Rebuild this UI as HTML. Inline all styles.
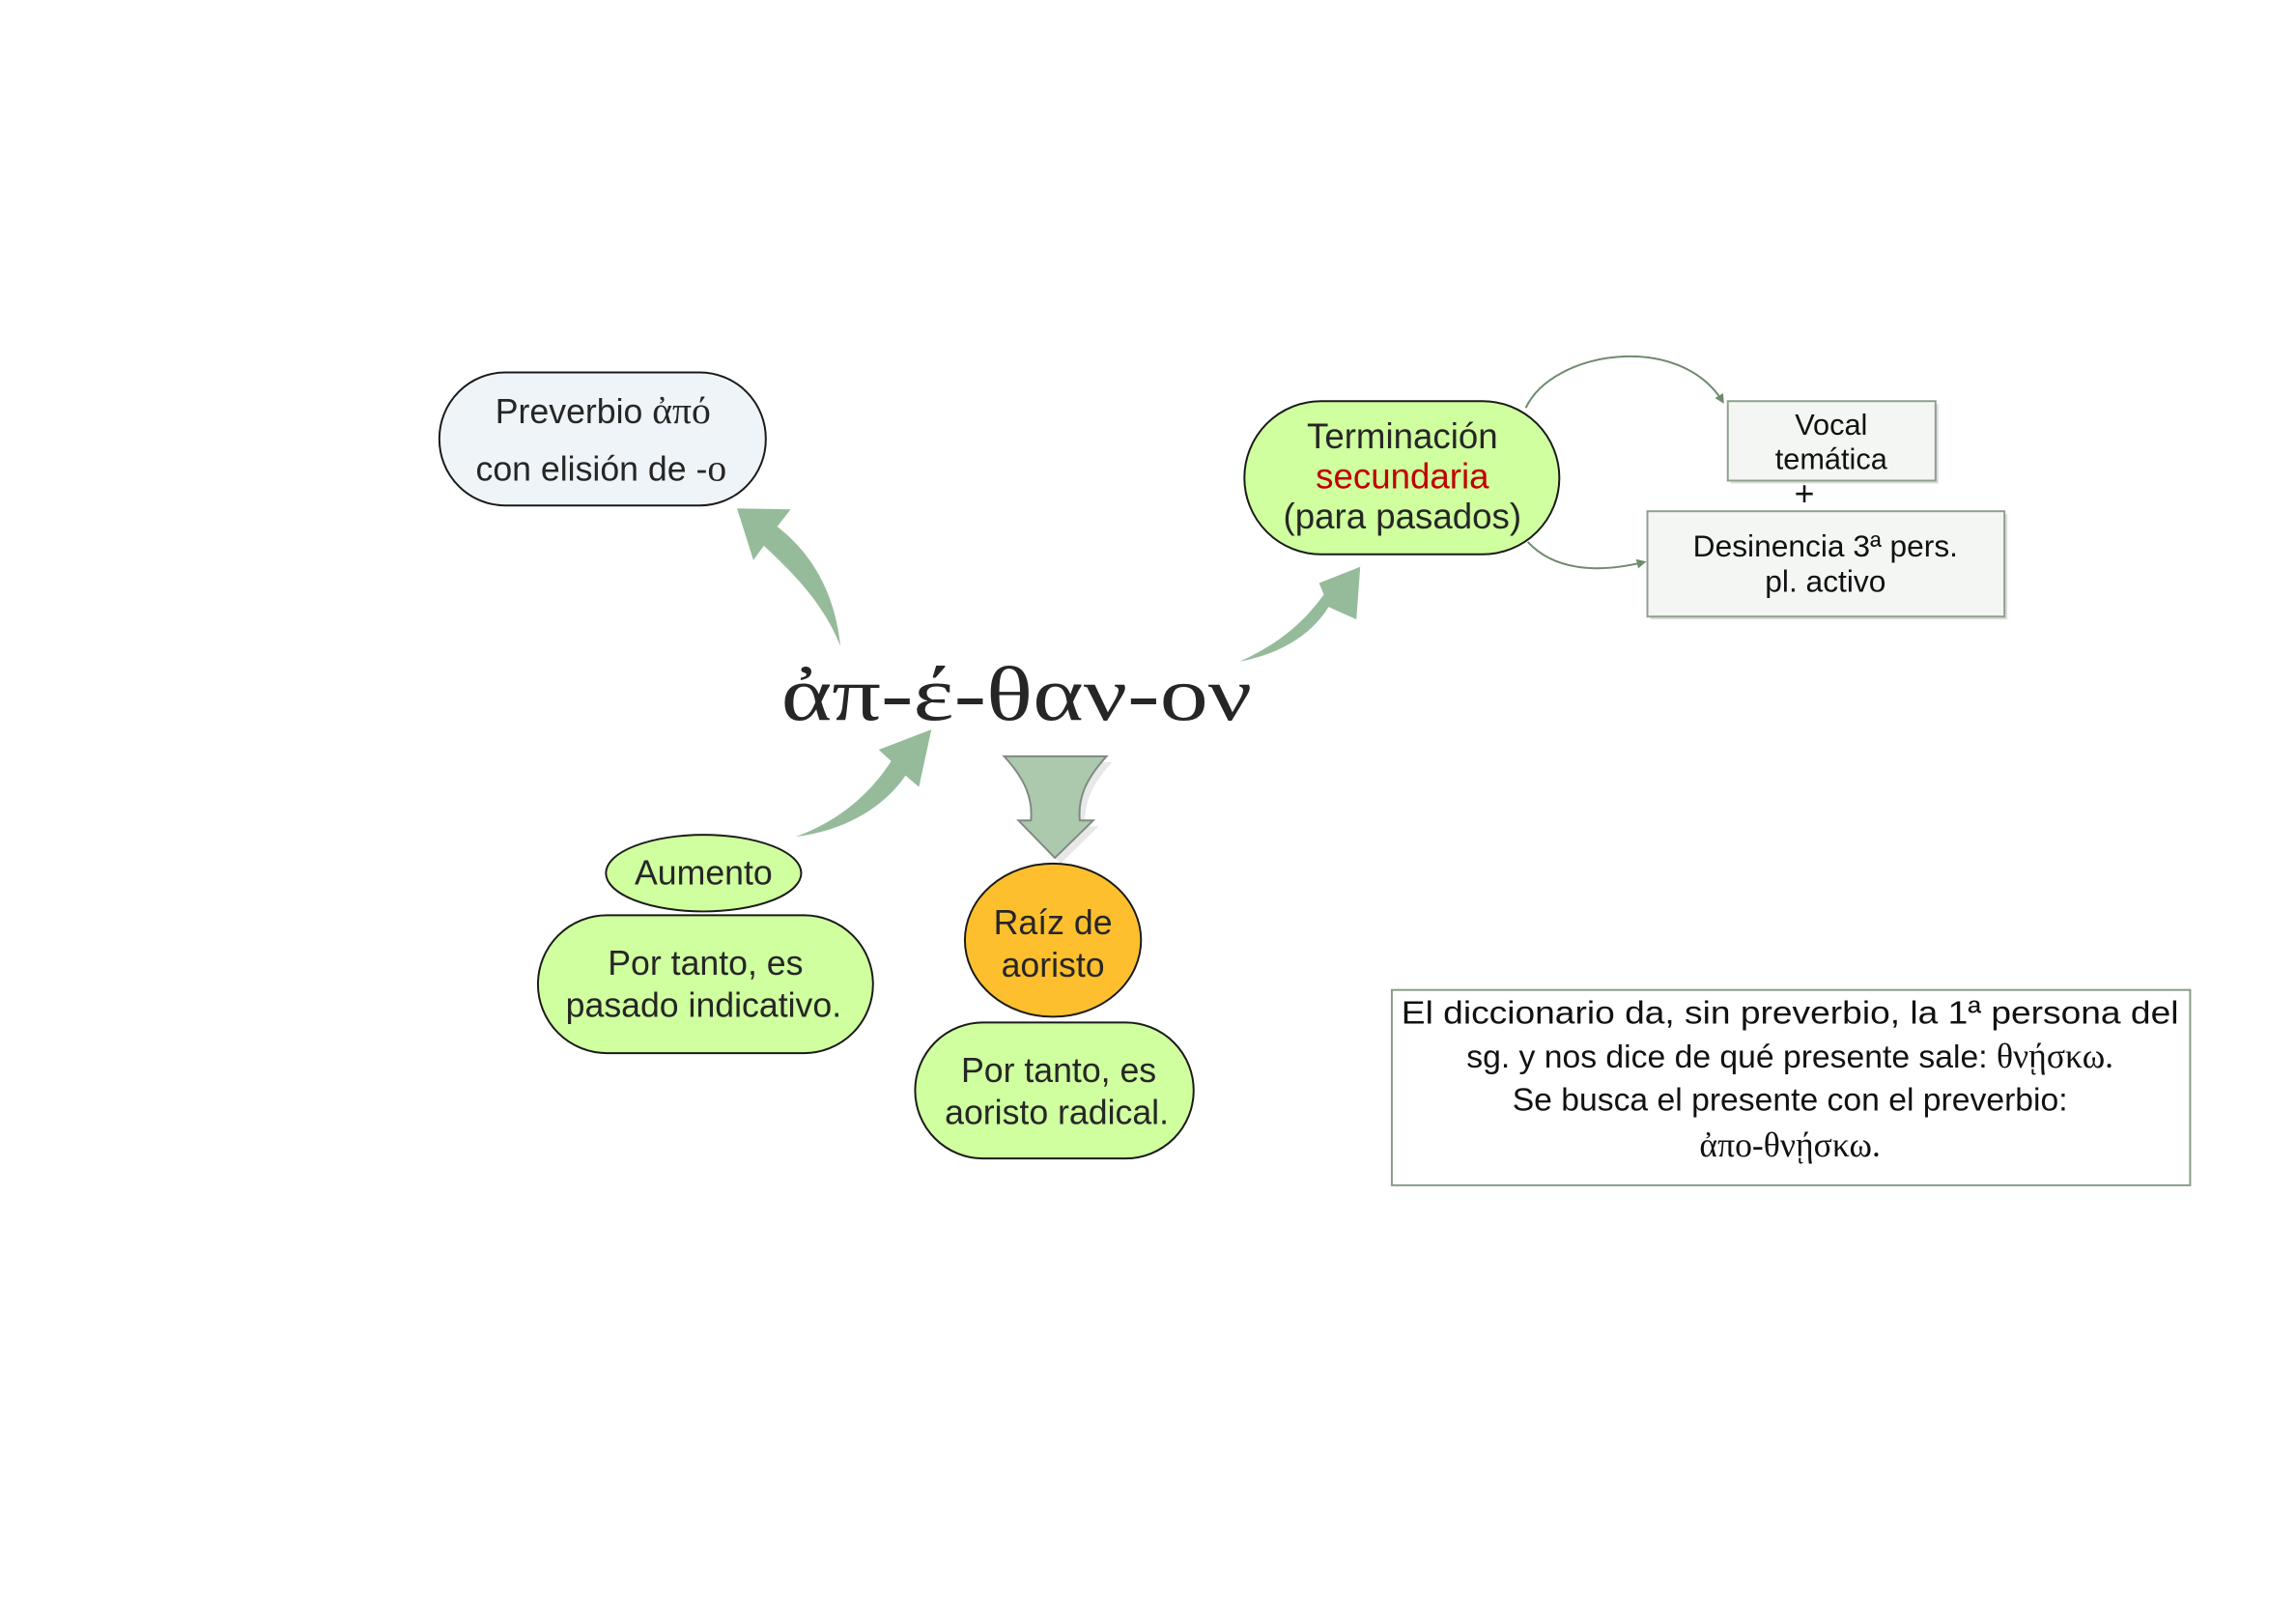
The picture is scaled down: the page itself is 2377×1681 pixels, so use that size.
<!DOCTYPE html>
<html><head><meta charset="utf-8"><style>
html,body{margin:0;padding:0;background:#fff;}
svg{display:block;}
text{font-family:"Liberation Sans",sans-serif;fill:#262626;}
.g{font-family:"Liberation Serif","DejaVu Serif",serif;}
</style></head><body>
<svg width="2377" height="1681" viewBox="0 0 2377 1681" xmlns="http://www.w3.org/2000/svg">
<defs>
<marker id="ah" markerWidth="10" markerHeight="10" refX="8" refY="5" orient="auto" markerUnits="userSpaceOnUse" viewBox="0 0 10 10">
<path d="M0,0 L10,5 L0,10 z" fill="#6f8a6f"/></marker>
</defs>
<g transform="scale(0.991)">
<rect x="459" y="389" width="341" height="139" rx="69" fill="#eef4f8" stroke="#1a1a1a" stroke-width="2"/>
<text x="630" y="442" font-size="36" text-anchor="middle">Preverbio <tspan class="g" font-size="40">ἀπό</tspan></text>
<text x="628" y="502" font-size="36" text-anchor="middle">con elisión de -<tspan class="g" font-size="40">ο</tspan></text>

<path d="M878,675 C872,620 850,580 812,550 L826,532 L770,531 L787,585 L798,570 C830,600 860,630 878,675 Z" fill="#96bb9a"/>

<text class="g" x="1062" y="752" font-size="80" text-anchor="middle" textLength="492" lengthAdjust="spacingAndGlyphs" fill="#2a2a2a">ἀπ-έ-θαν-ον</text>

<path d="M831,874 C880,868 922,845 946,810 L960,822 L973,762 L918,783 L931,795 C905,835 870,860 831,874 Z" fill="#96bb9a"/>

<g transform="translate(13,6)">
<path d="M1282,685 C1320,678 1355,660 1375,628 L1404,641 L1408,586 L1365,603 L1370,615 C1345,650 1315,670 1282,685 Z" fill="#96bb9a"/>
<rect x="1287" y="413" width="329" height="160" rx="80" fill="#cfff9e" stroke="#1a1a1a" stroke-width="2"/>
<text x="1452" y="462" font-size="37" text-anchor="middle">Terminación</text>
<text x="1452" y="504" font-size="37" text-anchor="middle" style="fill:#c00000">secundaria</text>
<text x="1452" y="546" font-size="37" text-anchor="middle">(para pasados)</text>
</g>

<g transform="translate(11,8)">
<path d="M1041,785 L1148,785 C1125,810 1118,830 1120,852 L1134,852 L1094,891 L1056,852 L1069,852 C1071,830 1064,810 1041,785 Z" fill="#e8e8e8" transform="translate(3,3)"/>
<path d="M1038,782 L1145,782 C1122,807 1115,827 1117,849 L1131,849 L1091,888 L1053,849 L1066,849 C1068,827 1061,807 1038,782 Z" fill="#acc9ae" stroke="#808a80" stroke-width="2"/>
</g>

<ellipse cx="735" cy="912" rx="102" ry="40" fill="#cfff9e" stroke="#1a1a1a" stroke-width="2"/>
<text x="735" y="924" font-size="36" text-anchor="middle">Aumento</text>
<rect x="562" y="956" width="350" height="144" rx="72" fill="#cfff9e" stroke="#1a1a1a" stroke-width="2"/>
<text x="737" y="1018" font-size="36" text-anchor="middle">Por tanto, es</text>
<text x="735" y="1062" font-size="36" text-anchor="middle">pasado indicativo.</text>

<ellipse cx="1100" cy="982" rx="92" ry="80" fill="#fdbf2d" stroke="#1a1a1a" stroke-width="2"/>
<text x="1100" y="976" font-size="36" text-anchor="middle">Raíz de</text>
<text x="1100" y="1020" font-size="36" text-anchor="middle">aoristo</text>
<rect x="956" y="1068" width="291" height="142" rx="71" fill="#cfff9e" stroke="#1a1a1a" stroke-width="2"/>
<text x="1106" y="1130" font-size="36" text-anchor="middle">Por tanto, es</text>
<text x="1104" y="1174" font-size="36" text-anchor="middle">aoristo radical.</text>

<path d="M1594,426 C1622,366 1755,346 1800,420" fill="none" stroke="#6f8a6f" stroke-width="2" marker-end="url(#ah)"/>
<path d="M1596,566 C1622,594 1665,600 1718,587" fill="none" stroke="#6f8a6f" stroke-width="2" marker-end="url(#ah)"/>

<rect x="1808" y="422" width="217" height="83" fill="#dcdcdc"/>
<rect x="1805" y="419" width="217" height="83" fill="#f3f6f3" stroke="#8fa08f" stroke-width="2"/>
<text x="1913" y="454" font-size="31" text-anchor="middle" style="fill:#111">Vocal</text>
<text x="1913" y="490" font-size="31" text-anchor="middle" style="fill:#111">temática</text>
<text x="1885" y="528" font-size="36" text-anchor="middle" style="fill:#111">+</text>

<rect x="1724" y="537" width="373" height="110" fill="#dcdcdc"/>
<rect x="1721" y="534" width="373" height="110" fill="#f3f6f3" stroke="#8fa08f" stroke-width="2"/>
<text x="1907" y="581" font-size="32" text-anchor="middle" style="fill:#111">Desinencia 3ª pers.</text>
<text x="1907" y="618" font-size="32" text-anchor="middle" style="fill:#111">pl. activo</text>

<rect x="1454" y="1034" width="834" height="204" fill="#fff" stroke="#8a9a8a" stroke-width="2"/>
<text x="1870" y="1069" font-size="34" text-anchor="middle" style="fill:#111" textLength="812" lengthAdjust="spacingAndGlyphs">El diccionario da, sin preverbio, la 1ª persona del</text>
<text x="1870" y="1115" font-size="34" text-anchor="middle" style="fill:#111">sg. y nos dice de qué presente sale: <tspan class="g" font-size="36">θνῄσκω.</tspan></text>
<text x="1870" y="1160" font-size="34" text-anchor="middle" style="fill:#111">Se busca el presente con el preverbio:</text>
<text class="g" x="1870" y="1208" font-size="36" text-anchor="middle" style="fill:#111">ἀπο-θνῄσκω.</text>
</g>
</svg>
</body></html>
